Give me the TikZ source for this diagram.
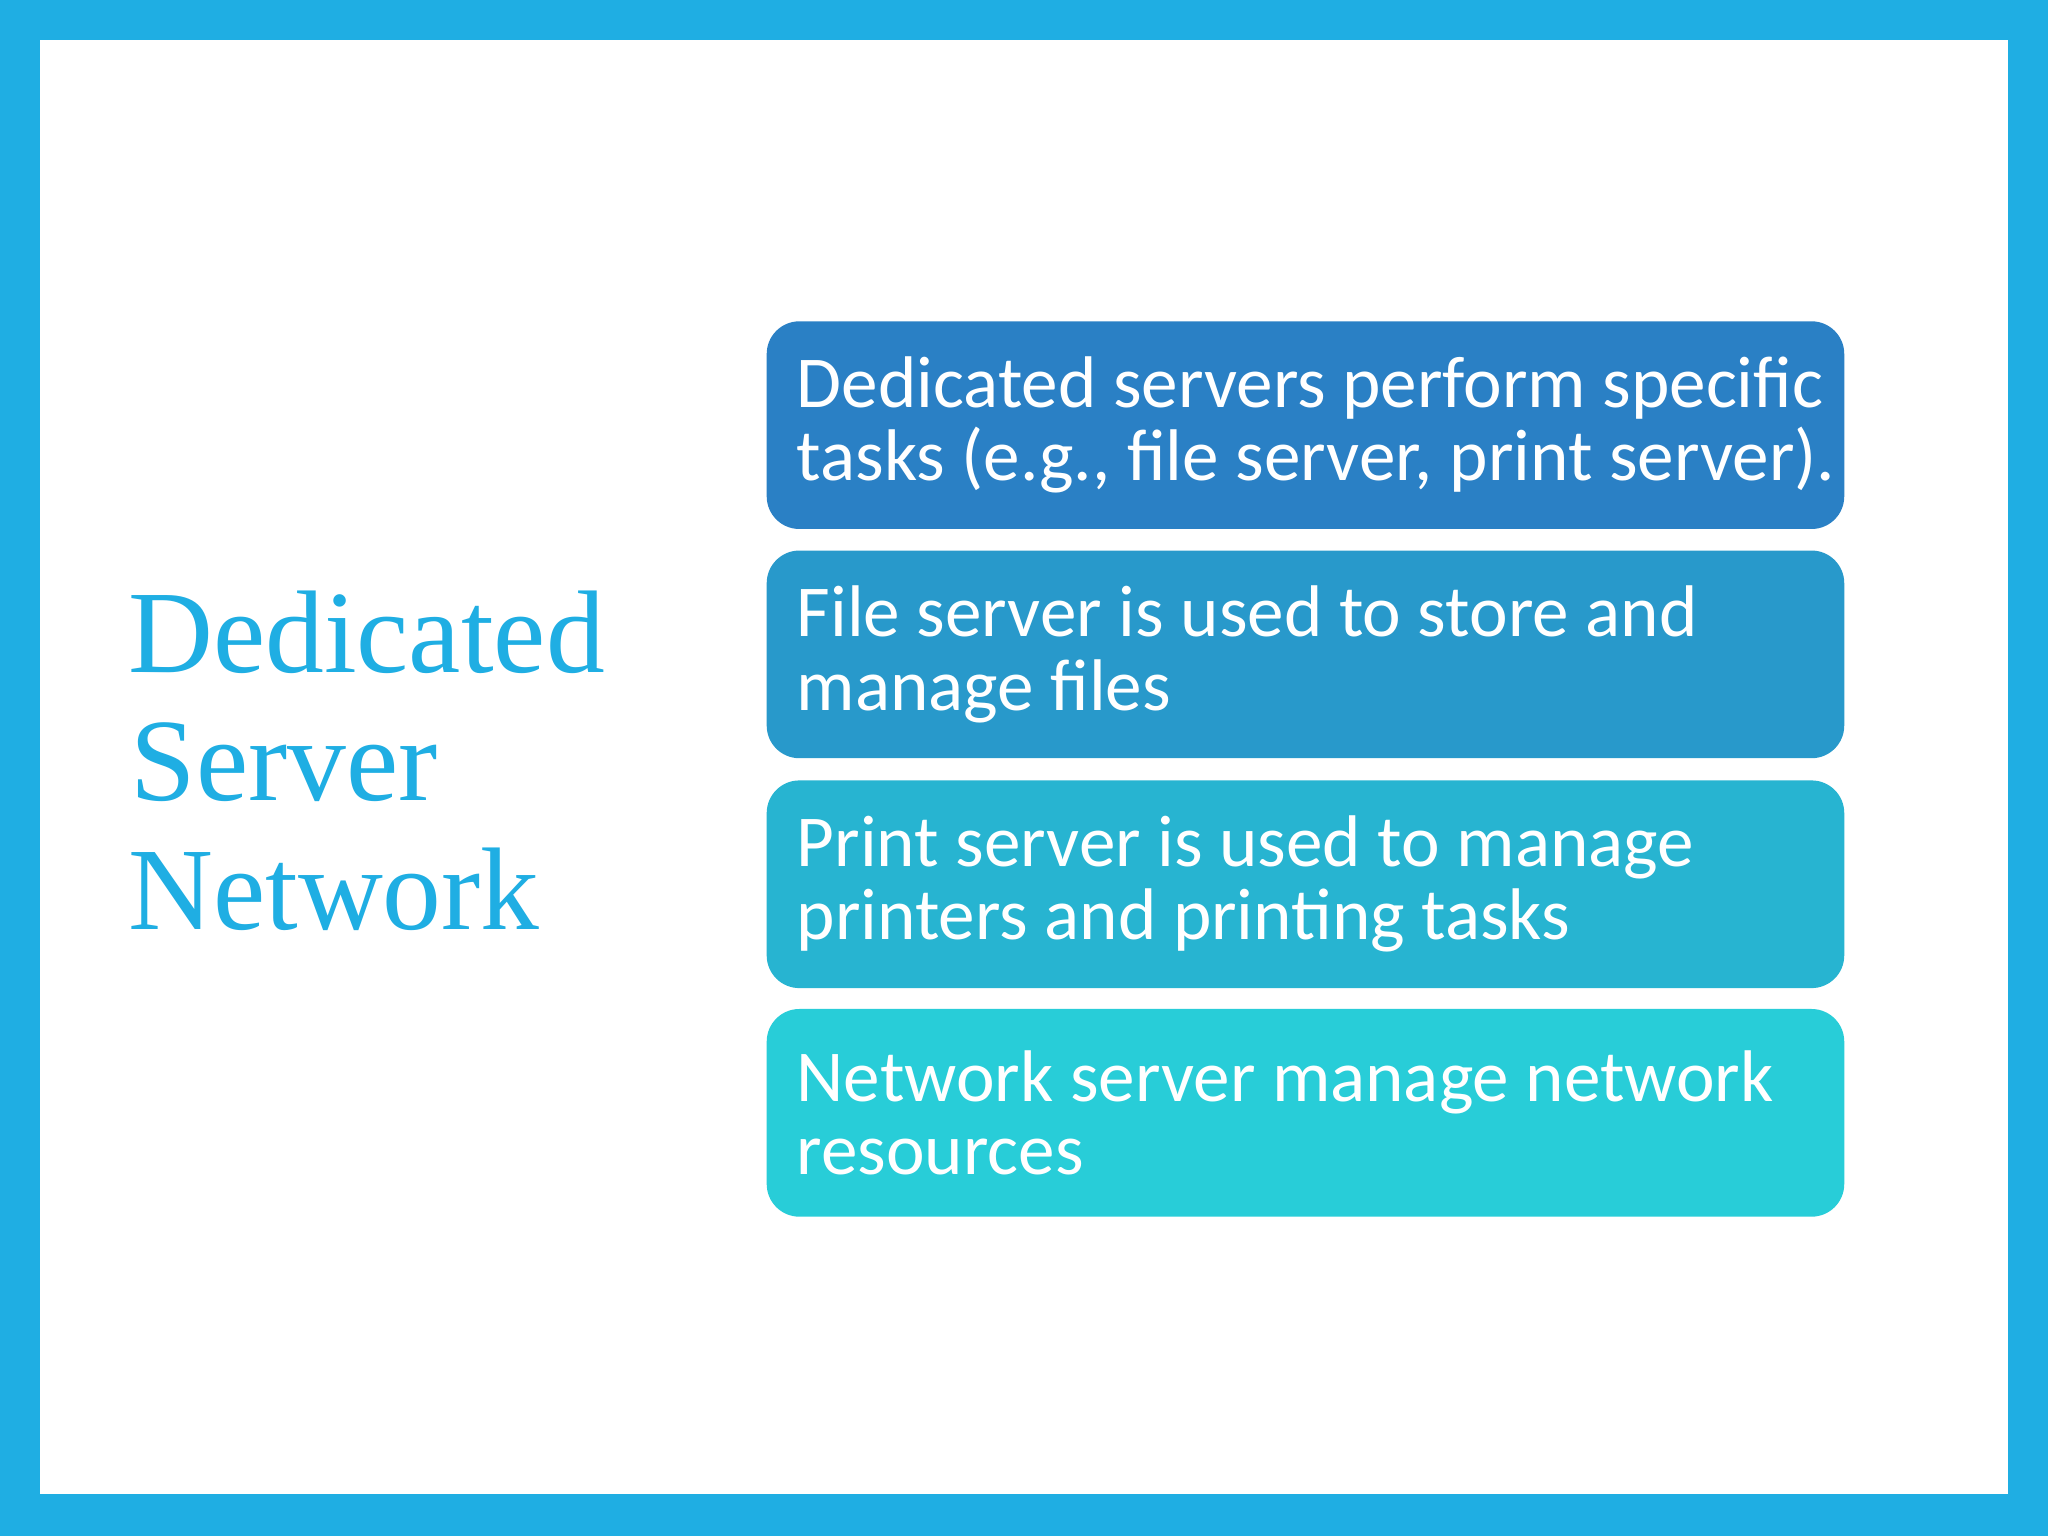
\documentclass[tikz,border=0pt]{standalone}
\usepackage{fontspec}
\setmainfont{Carlito}
\newfontfamily\titlefont{Liberation Serif}
\definecolor{frame}{HTML}{1FAEE3}
\definecolor{cA}{HTML}{2A80C5}
\definecolor{cB}{HTML}{2899CB}
\definecolor{cC}{HTML}{27B4D1}
\definecolor{cD}{HTML}{28CDD8}
\tikzset{
  itembox/.style={rounded corners=25pt, minimum width=825pt, minimum height=159pt, inner sep=0pt, draw=none},
  itemtext/.style={anchor=west, inner sep=0pt, text=white, align=left, font=\fontsize{56}{56}\selectfont}
}
\begin{document}
\begin{tikzpicture}[x=1pt,y=-1pt]
\fill[frame] (0,0) rectangle (1568,1176);
\fill[white] (31,31) rectangle (1537,1144);
\node[anchor=base west, inner sep=0pt, text=frame, align=left, font=\titlefont\fontsize{90}{98}\selectfont] (title) at (98,515) {Dedicated};
\node[anchor=base west, inner sep=0pt, text=frame, font=\titlefont\fontsize{90}{98}\selectfont] (title2) at (100,613) {Server};
\node[anchor=base west, inner sep=0pt, text=frame, font=\titlefont\fontsize{90}{98}\selectfont] (title3) at (98,712) {Network};
\node[itembox, fill=cA] (b1) at (999.5,325.5) {};
\node[itembox, fill=cB] (b2) at (999.5,501) {};
\node[itembox, fill=cC] (b3) at (999.5,677) {};
\node[itembox, fill=cD] (b4) at (999.5,852) {};
\node[itemtext] (t1) at ([xshift=23pt]b1.west) {Dedicated servers perform specific\\tasks (e.g., file server, print server).};
\node[itemtext] (t2) at ([xshift=23pt]b2.west) {File server is used to store and\\manage files};
\node[itemtext] (t3) at ([xshift=23pt]b3.west) {Print server is used to manage\\printers and printing tasks};
\node[itemtext] (t4) at ([xshift=23pt]b4.west) {Network server manage network\\resources};
\end{tikzpicture}
\end{document}
